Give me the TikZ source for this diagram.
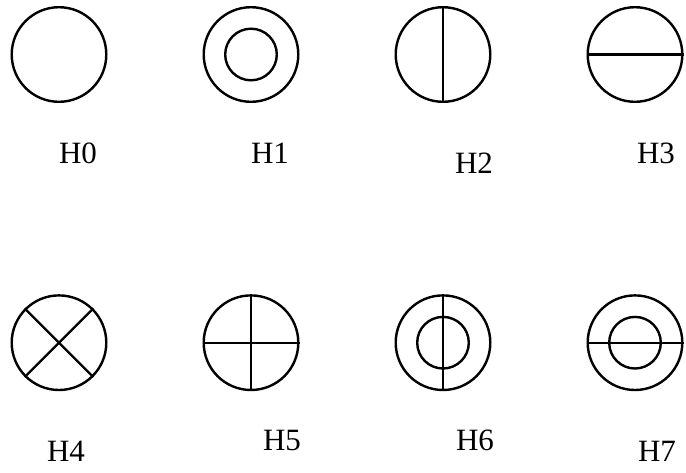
\documentclass[tikz,border=0pt]{standalone}
\usepackage{fontspec}
\setmainfont{Liberation Serif}
\usepackage{tikz}
\usetikzlibrary{positioning}

\begin{document}
\begin{tikzpicture}[
x=0.5pt, y=-0.5pt,
sym/.style={circle, draw=black, line width=1.2pt, minimum size=47.3pt, inner sep=0},
ring/.style={circle, draw=black, line width=1.2pt, minimum size=25.8pt, inner sep=0},
tag/.style={inner sep=0, font=\fontsize{15.5}{18}\selectfont},
every path/.style={line width=1.2pt}
]
\useasboundingbox (0,0) rectangle (686,472);
% symbols
\node[sym] at (59,54.5) (h0) {};
\node[sym, right=47.5pt of h0] (h1) {};
\node[sym, right=47.5pt of h1] (h2) {};
\node[sym, right=47.5pt of h2] (h3) {};
\node[sym, below=95.6pt of h0] (h4) {};
\node[sym, right=47.5pt of h4] (h5) {};
\node[sym, right=47.5pt of h5] (h6) {};
\node[sym, right=47.5pt of h6] (h7) {};
\node[ring] at (h1) (h1in) {};
\node[ring] at (h6) (h6in) {};
\node[ring] at (h7) (h7in) {};
\draw (h2.north) -- (h2.south);
\draw (h3.west) -- (h3.east);
\draw (h4.north west) -- (h4.south east);
\draw (h4.south west) -- (h4.north east);
\draw (h5.north) -- (h5.south);
\draw (h5.west) -- (h5.east);
\draw (h6.north) -- (h6.south);
\draw (h7.west) -- (h7.east);
% labels
\node[tag] at (78,153) (t0) {H0};
\node[tag] at (270,153) (t1) {H1};
\node[tag] at (474,163.5) (t2) {H2};
\node[tag] at (656,153) (t3) {H3};
\node[tag] at (66,451.5) (t4) {H4};
\node[tag] at (282,440) (t5) {H5};
\node[tag] at (475,440) (t6) {H6};
\node[tag] at (657,451.5) (t7) {H7};
\end{tikzpicture}
\end{document}
